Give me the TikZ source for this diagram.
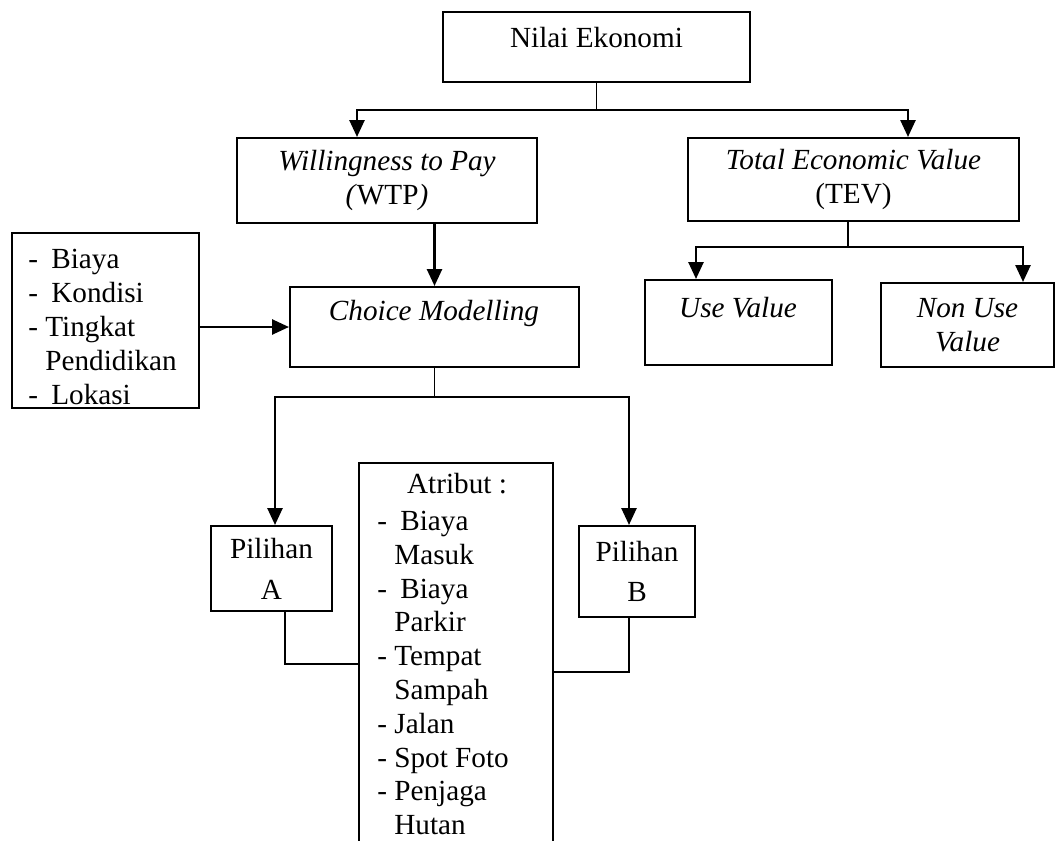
\documentclass[tikz,border=0pt]{standalone}
\usepackage{fontspec}
\setmainfont{Liberation Serif}
\usetikzlibrary{arrows.meta}
\newcommand{\wdash}{\makebox[11.5pt][l]{-}}
\newcommand{\ndash}{\makebox[8.5pt][l]{-}}
\newcommand{\nind}{\hspace*{8.5pt}}

\begin{document}
\begin{tikzpicture}[x=0.5pt, y=-0.5pt,
  font=\fontsize{14.6}{16.9}\selectfont,
  box/.style={draw, line width=1pt, inner sep=0pt, align=center},
  txt/.style={inner sep=0pt, align=center},
  stem/.style={line width=0.8pt},
  arr/.style={line width=1.3pt, -{Triangle[width=7.5pt,length=8.5pt]}}]
\useasboundingbox (0,0) rectangle (1056,841);
\clip (0,0) rectangle (1056,841);

\node[box, minimum width=153.5pt, minimum height=35pt] (nilai) at (596.5,47) {};
\node[txt] (nilaitxt) at (596.5,38) {Nilai Ekonomi};
\node[box, minimum width=150pt, minimum height=42.5pt] (wtp) at (387,180.5)
  {\textit{Willingness to Pay}\\\textit{(}WTP\textit{)}};
\node[box, minimum width=165.5pt, minimum height=41.5pt] (tev) at (853.5,179.5)
  {\textit{Total Economic Value}\\(TEV)};
\node[box, minimum width=93.5pt, minimum height=42.5pt] (usev) at (738.5,322.5) {};
\node[txt] (usevtxt) at (738,308) {\textit{Use Value}};
\node[box, minimum width=86.5pt, minimum height=42pt] (nonuse) at (967.5,325)
  {\textit{Non Use}\\\textit{Value}};
\node[box, minimum width=144.5pt, minimum height=40pt] (choice) at (434.5,327) {};
\node[txt] (choicetxt) at (434,313) {\textit{Choice Modelling}};
\node[box, minimum width=93.5pt, minimum height=87.5pt] (faktor) at (105.5,320.5) {};
\node[txt, anchor=west, align=left] (faktortxt) at (28,327)
  {\wdash Biaya\\\wdash Kondisi\\\ndash Tingkat\\\nind Pendidikan\\\wdash Lokasi};
\node[box, minimum width=60.5pt, minimum height=42.5pt] (pila) at (271.5,568.5) {Pilihan\\[3.5pt]A};
\node[box, minimum width=58pt, minimum height=45.5pt] (pilb) at (637,571.5) {Pilihan\\[3.5pt]B};
\node[box, minimum width=97pt, minimum height=208.5pt] (atribut) at (456,671.5) {};
\node[txt] (atributtxt) at (457,484) {Atribut :};
\node[txt, anchor=west, align=left] (atributlist) at (377,673)
  {\wdash Biaya\\\nind Masuk\\\wdash Biaya\\\nind Parkir\\\ndash Tempat\\\nind Sampah\\
   \ndash Jalan\\\ndash Spot Foto\\\ndash Penjaga\\\nind Hutan};

\coordinate (nsplit) at (596.5,110);
\draw[stem] (nilai) -- (nsplit);
\draw[arr] (nsplit) -| (357,0 |- wtp.north);
\draw[arr] (nsplit) -| (908,0 |- tev.north);

\coordinate (tsplit) at (848,247);
\draw[stem] (848,0 |- tev.south) -- (tsplit);
\draw[arr] (tsplit) -| (696,0 |- usev.north);
\draw[arr] (tsplit) -| (1023,0 |- nonuse.north);

\draw[arr] (wtp.south -| choice.north) -- (choice.north);
\draw[arr] (faktor.east |- choice.west) -- (choice.west);

\coordinate (csplit) at (434.5,397);
\draw[stem] (choice) -- (csplit);
\draw[arr] (csplit) -| (275,0 |- pila.north);
\draw[arr] (csplit) -| (629,0 |- pilb.north);
\draw[stem] (285,0 |- pila.south) |- (atribut.west |- 0,664);
\draw[stem] (629,0 |- pilb.south) |- (atribut.east |- 0,672);
\end{tikzpicture}
\end{document}
